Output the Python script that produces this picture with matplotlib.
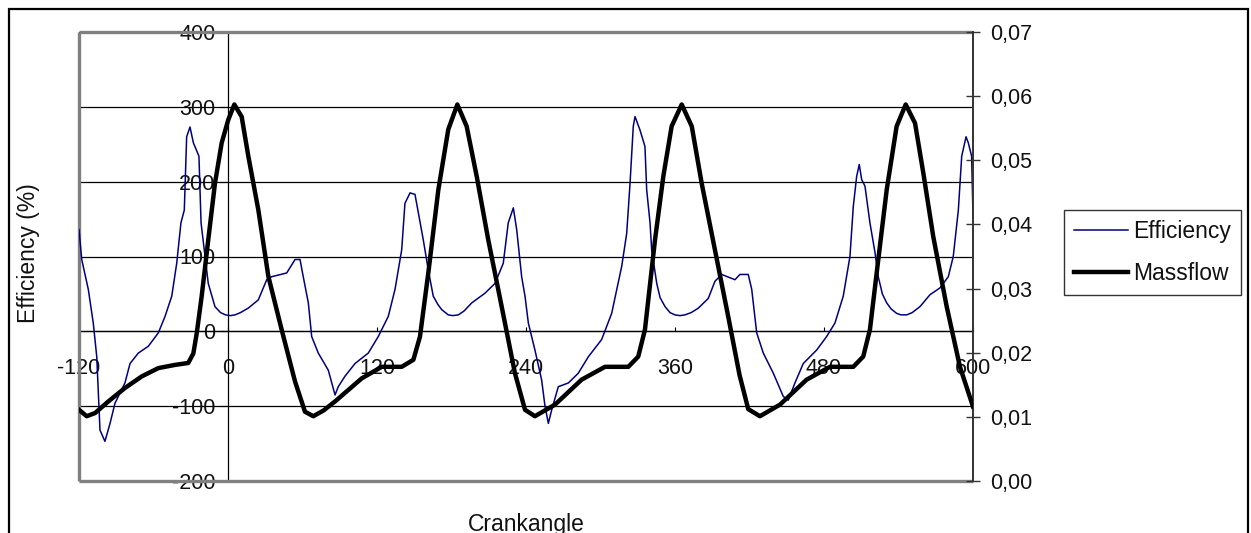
import matplotlib
matplotlib.use("Agg")
import matplotlib.pyplot as plt
from matplotlib.patches import Rectangle

plt.rcParams['font.family'] = ['Liberation Sans', 'DejaVu Sans']

# ---- data ----
eff_angle = [-120, -117.8, -112.5, -108.5, -105.7, -104.5, -103.1, -99.1, -95, -91, -83, -78.9,
             -72.2, -64.2, -56.1, -50.7, -45.3, -41.3, -37.9, -35.2, -33.3, -30.6, -27.9, -23.4,
             -21.7, -18.5, -15.9, -10.5, -6, -2, 2, 5.6, 10, 16.3, 24.4, 31.2, 35.2, 47.3, 54, 58,
             60.6, 64.7, 67.4, 72.7, 80.8, 86.2, 88.8, 94.2, 102.3, 113, 121, 129.1, 134.5, 139.9,
             142.5, 146.6, 150.6, 153.8, 157.3, 161.3, 165.3, 169, 172.1, 177.4, 181, 185.5, 190,
             196.3, 207, 215, 221.7, 225.7, 229.8, 232.5, 236.5, 239.2, 241.9, 247.2, 252.6,
             255.3, 258, 260.7, 266, 274.1, 282.1, 290.2, 300.9, 309, 317.1, 321.1, 323.8, 326.4,
             327.8, 331.8, 335.8, 337.2, 339.9, 341.2, 345.3, 348, 352, 356, 360, 364, 368, 373,
             378.8, 386.8, 392.2, 397.6, 408.3, 412.3, 419, 421.8, 425.8, 431.1, 439.2, 447.2,
             451.2, 456.6, 463.3, 474.1, 482.1, 488.8, 495.5, 500.9, 503.6, 506.3, 508.4, 510.3,
             513, 517, 521.1, 523.7, 527, 530.5, 534, 538.5, 542, 546.6, 551, 557.3, 565.4, 573.4,
             580.1, 584.1, 588.2, 590.9, 594.4, 596.2, 598.9, 600]
eff_value = [136, 96, 56, 11, -34, -78, -132, -147, -123, -96, -69, -43,
             -29, -20, -2, 20, 47, 91, 145, 162, 260, 273, 252, 234,
             145, 100, 64, 33, 25, 22, 21, 22, 25, 31, 42, 69, 73, 78, 96, 96,
             73, 38, -7, -29, -52, -85, -74, -60, -43, -29, -7, 20, 56, 109,
             171, 185, 183, 154, 122, 82, 47, 36, 29, 22, 21, 22, 27,
             38, 51, 64, 91, 145, 165, 136, 73, 47, 11, -25, -65,
             -100, -123, -105, -74, -69, -56, -34, -11, 24, 87, 131, 198, 274,
             287, 269, 247, 189, 145, 109, 64, 45, 33, 25, 22, 21, 22, 25,
             31, 44, 67, 76, 69, 76, 76, 56, -2, -29, -56, -87,
             -92, -69, -43, -25, -7, 11, 47, 100, 167, 207, 223, 203,
             194, 145, 105, 73, 50, 38, 30, 24, 22, 22, 25, 33, 49, 58,
             73, 100, 162, 234, 260, 252, 234, 154]

mass_angle = [-120, -113.8, -107, -96.4, -83, -69.5, -56.1, -42.7, -32, -27.9, -25.2, -21.2,
              -15.9, -10.5, -5.1, 0.2, 5.1, 11, 16.4, 24.4, 32.5, 43.2, 54, 62, 68.7, 77,
              86.2, 107.7, 123.8, 139.9, 149.3, 154.6, 161.3, 169.4, 177.4, 184.7, 192.2, 200.3,
              209.6, 220.4, 231.1, 239.2, 247.2, 263.3, 284.8, 303.6, 322.4, 330.4, 335.8, 343.9,
              350.6, 357.3, 365.4, 373.5, 381.5, 392.2, 402.9, 412, 419, 428.4, 444.5, 466,
              484.8, 503.6, 511.6, 517, 522.4, 530.5, 538.5, 545.8, 553.3, 560, 568, 578.8,
              589.5, 600]
mass_value = [0.0111, 0.0101, 0.0106, 0.0124, 0.0145, 0.0163, 0.0176, 0.0181, 0.0184, 0.0199,
              0.0230, 0.0288, 0.0376, 0.0464, 0.0527, 0.0563, 0.0587, 0.0568, 0.0506, 0.0423,
              0.0319, 0.0236, 0.0155, 0.0108, 0.0101, 0.0110, 0.0124, 0.0160, 0.0178, 0.0178,
              0.0189, 0.0225, 0.0324, 0.0454, 0.0548, 0.0587, 0.0553, 0.0475, 0.0376, 0.0272,
              0.0168, 0.0111, 0.0101, 0.0119, 0.0158, 0.0178, 0.0178, 0.0194, 0.0236, 0.0376,
              0.0475, 0.0553, 0.0587, 0.0553, 0.0464, 0.0360, 0.0256, 0.0165, 0.0112, 0.0101,
              0.0119, 0.0158, 0.0178, 0.0178, 0.0194, 0.0236, 0.0324, 0.0454, 0.0553, 0.0587,
              0.0558, 0.0480, 0.0381, 0.0272, 0.0178, 0.0116]

x_ticks = [-120, 0, 120, 240, 360, 480, 600]
left_ticks = [-200, -100, 0, 100, 200, 300, 400]
right_ticks = [0.00, 0.01, 0.02, 0.03, 0.04, 0.05, 0.06, 0.07]
right_labels = ['0,00', '0,01', '0,02', '0,03', '0,04', '0,05', '0,06', '0,07']

W, H = 1251, 533
fig = plt.figure(figsize=(W / 100, H / 100), dpi=100)
ax = fig.add_axes([79 / W, 1 - 481 / H, (973 - 79) / W, (481 - 32) / H])
ax.patch.set_visible(False)
ax2 = ax.twinx()

TXT = '#111111'
FS = 15.5

ln1, = ax.plot(eff_angle, eff_value, color='#000080', lw=1.1, zorder=3, label='Efficiency')
ln2, = ax2.plot(mass_angle, mass_value, color='black', lw=3.2, zorder=3, label='Massflow',
                solid_joinstyle='round')

ax.set_xlim(-120, 600)
ax.set_ylim(-200, 400)
ax2.set_ylim(0, 0.07)

ax.set_xticks(x_ticks)
ax.set_xticklabels([str(t) for t in x_ticks])
ax.set_yticks(left_ticks)
ax.set_yticklabels([str(t) for t in left_ticks])
ax2.set_yticks(right_ticks)
ax2.set_yticklabels(right_labels)

ax.yaxis.grid(True, color='black', lw=0.9)
ax.set_axisbelow(True)

for s in ['top', 'right']:
    ax.spines[s].set_visible(False)
ax.spines['left'].set_position(('data', 0))
ax.spines['bottom'].set_position(('data', 0))
ax.spines['left'].set_color('black')
ax.spines['bottom'].set_color('black')
ax.spines['left'].set_linewidth(0.9)
ax.spines['bottom'].set_linewidth(0.9)

for s in ['top', 'left', 'bottom']:
    ax2.spines[s].set_visible(False)
ax2.spines['right'].set_color('#333333')
ax2.spines['right'].set_linewidth(1.4)

ax.tick_params(axis='x', direction='in', length=3, width=0.8, pad=19, labelsize=FS, labelcolor=TXT)
ax.tick_params(axis='y', direction='out', length=6, width=0.8, pad=3, labelsize=FS, labelcolor=TXT)
ax2.tick_params(axis='y', direction='inout', length=10, width=1.0, pad=7, labelsize=FS,
                labelcolor=TXT, colors='#333333')
for lab in ax2.get_yticklabels():
    lab.set_color(TXT)

# gray plot-area frame (left, top, bottom)
gray = '#808080'
ax.plot([-120, -120], [-200, 400], color=gray, lw=2.4, clip_on=False, zorder=2.6,
        solid_capstyle='butt')
ax.plot([-120, 600], [400, 400], color=gray, lw=2.4, clip_on=False, zorder=2.6,
        solid_capstyle='butt')
ax.plot([-120, 600], [-200, -200], color=gray, lw=2.4, clip_on=False, zorder=2.6,
        solid_capstyle='butt')

fig.text(526 / W, 1 - 524 / H, 'Crankangle', ha='center', va='center', fontsize=16.5, color=TXT)
fig.text(29 / W, 1 - 253 / H, 'Efficiency (%)', ha='center', va='center', rotation=90,
         fontsize=16.5, color=TXT)

leg = fig.legend([ln1, ln2], ['Efficiency', 'Massflow'], loc='upper left',
                 bbox_to_anchor=(1064 / W, 1 - 210 / H), bbox_transform=fig.transFigure,
                 fontsize=16.5, frameon=True, fancybox=False, shadow=False,
                 handlelength=2.35, handletextpad=0.2, labelspacing=0.8,
                 borderpad=0.45, borderaxespad=0)
leg.get_frame().set_edgecolor('black')
leg.get_frame().set_linewidth(1.0)
for t in leg.get_texts():
    t.set_color(TXT)

fig.patches.append(Rectangle((8.5 / W, -0.2), (1248 - 8.5) / W, 1.2 - 9 / H,
                             transform=fig.transFigure, fill=False, ec='black', lw=1.6))

fig.savefig('out.png', dpi=100)
